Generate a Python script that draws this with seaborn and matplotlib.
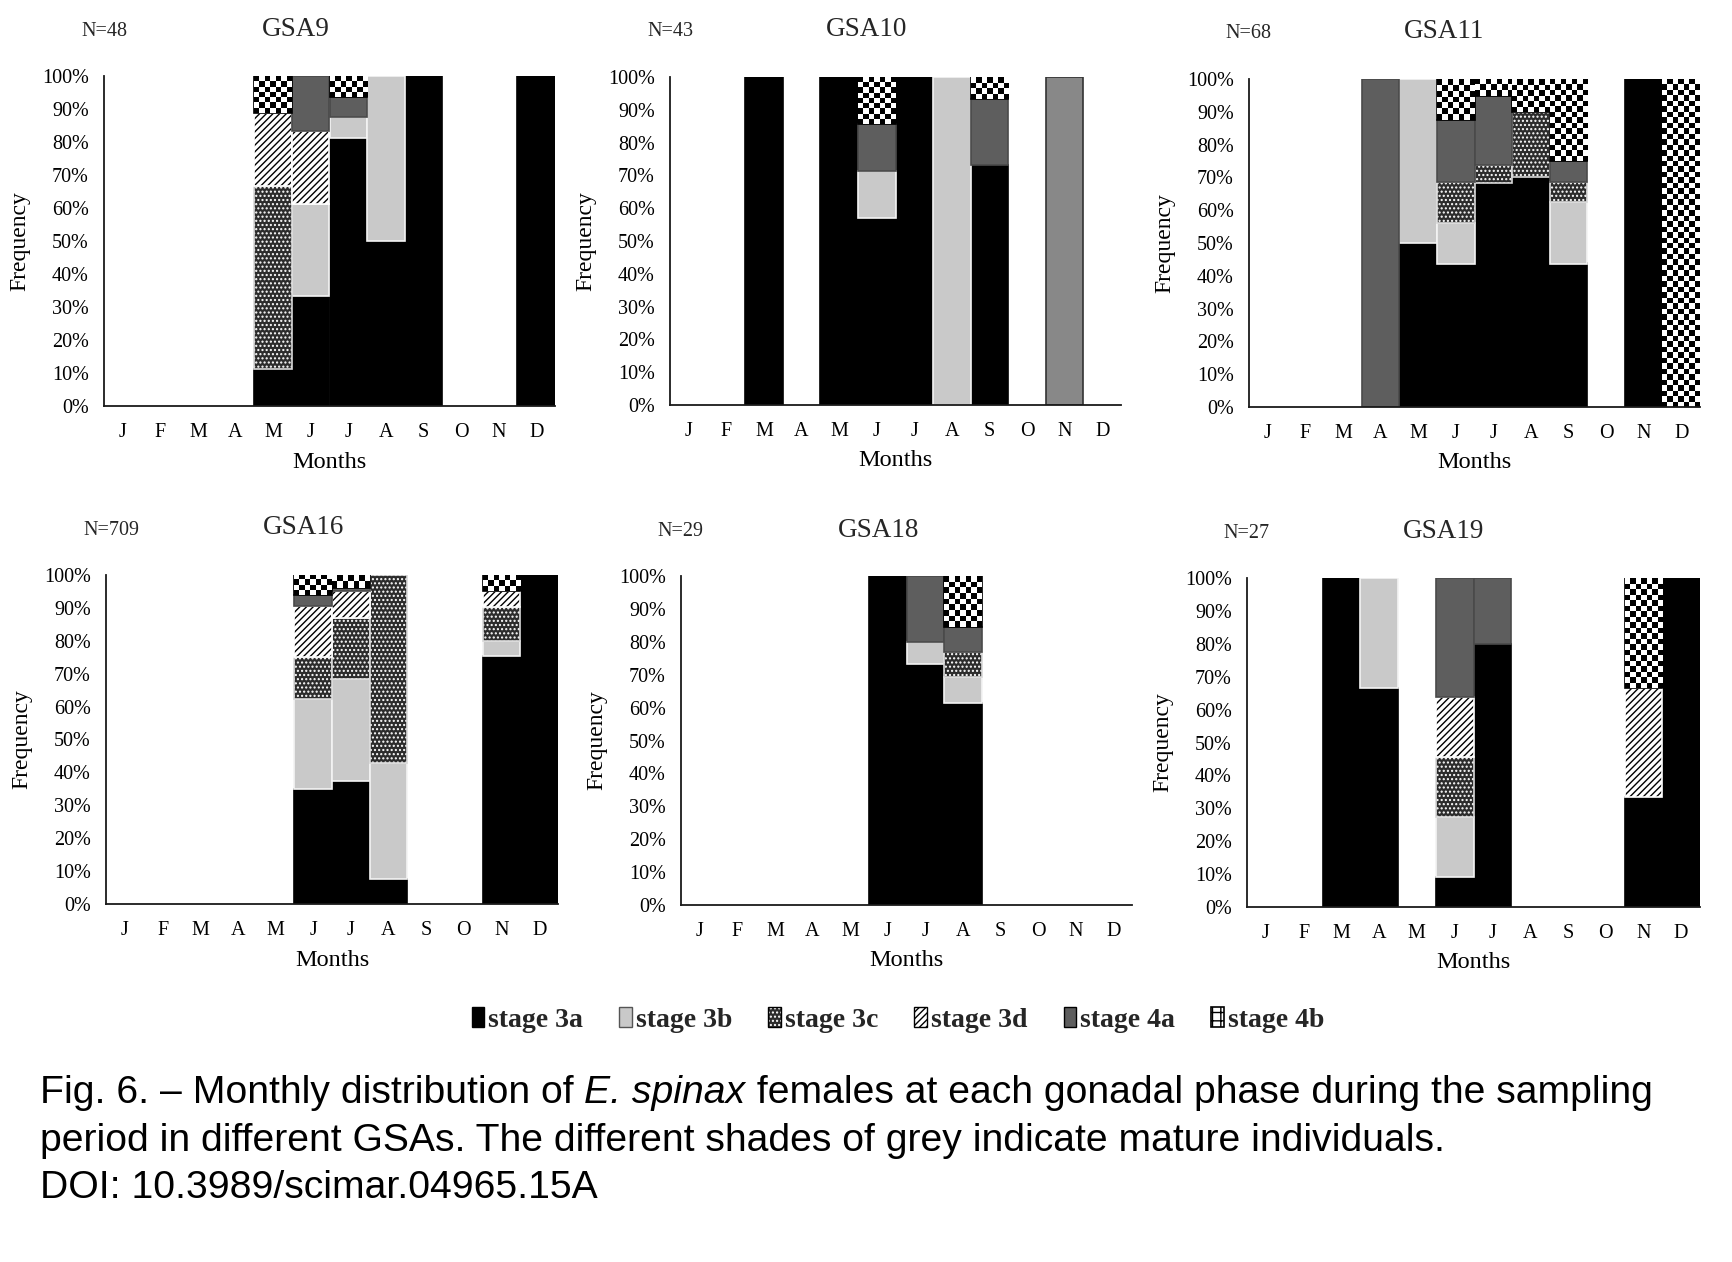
import numpy as np
import pandas as pd
import matplotlib
matplotlib.use("Agg")
import matplotlib.pyplot as plt
import matplotlib.patches as mpatches
from matplotlib.colors import to_rgba
from matplotlib.ticker import FuncFormatter
from matplotlib.offsetbox import TextArea, HPacker, AnnotationBbox
import seaborn as sns

# ---------------- data (percent of females per month) ----------------
months = ["J", "F", "M", "A", "M", "J", "J", "A", "S", "O", "N", "D"]
stages = ["stage 3a", "stage 3b", "stage 3c", "stage 3d", "stage 4a", "stage 4b"]

gsa9 = {
    "stage 3a": [0, 0, 0, 0, 11.1, 33.3, 81.25, 50, 100, 0, 0, 100],
    "stage 3b": [0, 0, 0, 0, 0, 27.8, 6.25, 50, 0, 0, 0, 0],
    "stage 3c": [0, 0, 0, 0, 55.6, 0, 0, 0, 0, 0, 0, 0],
    "stage 3d": [0, 0, 0, 0, 22.2, 22.2, 0, 0, 0, 0, 0, 0],
    "stage 4a": [0, 0, 0, 0, 0, 16.7, 6.25, 0, 0, 0, 0, 0],
    "stage 4b": [0, 0, 0, 0, 11.1, 0, 6.25, 0, 0, 0, 0, 0],
}
gsa10 = {
    "stage 3a": [0, 0, 100, 0, 100, 57.1, 100, 0, 73.3, 0, 0, 0],
    "stage 3b": [0, 0, 0, 0, 0, 14.3, 0, 100, 0, 0, 0, 0],
    "stage 3c": [0] * 12,
    "stage 3d": [0] * 12,
    "stage 4a": [0, 0, 0, 0, 0, 14.3, 0, 0, 20, 0, 100, 0],
    "stage 4b": [0, 0, 0, 0, 0, 14.3, 0, 0, 6.7, 0, 0, 0],
}
gsa11 = {
    "stage 3a": [0, 0, 0, 0, 50, 43.75, 68.4, 70, 43.75, 0, 100, 0],
    "stage 3b": [0, 0, 0, 0, 50, 12.5, 0, 0, 18.75, 0, 0, 0],
    "stage 3c": [0, 0, 0, 0, 0, 12.5, 5.3, 20, 6.25, 0, 0, 0],
    "stage 3d": [0] * 12,
    "stage 4a": [0, 0, 0, 100, 0, 18.75, 21.1, 0, 6.25, 0, 0, 0],
    "stage 4b": [0, 0, 0, 0, 0, 12.5, 5.2, 10, 25, 0, 0, 100],
}
gsa16 = {
    "stage 3a": [0, 0, 0, 0, 0, 34.9, 37.5, 7.5, 0, 0, 75.5, 100],
    "stage 3b": [0, 0, 0, 0, 0, 27.3, 30.9, 35.5, 0, 0, 4.5, 0],
    "stage 3c": [0, 0, 0, 0, 0, 13.0, 18.4, 57.0, 0, 0, 10.2, 0],
    "stage 3d": [0, 0, 0, 0, 0, 15.4, 8.4, 0, 0, 0, 5.0, 0],
    "stage 4a": [0, 0, 0, 0, 0, 3.3, 0.8, 0, 0, 0, 0, 0],
    "stage 4b": [0, 0, 0, 0, 0, 6.1, 4.0, 0, 0, 0, 4.8, 0],
}
gsa18 = {
    "stage 3a": [0, 0, 0, 0, 0, 100, 73.3, 61.5, 0, 0, 0, 0],
    "stage 3b": [0, 0, 0, 0, 0, 0, 6.7, 7.7, 0, 0, 0, 0],
    "stage 3c": [0, 0, 0, 0, 0, 0, 0, 7.7, 0, 0, 0, 0],
    "stage 3d": [0] * 12,
    "stage 4a": [0, 0, 0, 0, 0, 0, 20, 7.7, 0, 0, 0, 0],
    "stage 4b": [0, 0, 0, 0, 0, 0, 0, 15.4, 0, 0, 0, 0],
}
gsa19 = {
    "stage 3a": [0, 0, 100, 66.7, 0, 9.1, 80, 0, 0, 0, 33.3, 100],
    "stage 3b": [0, 0, 0, 33.3, 0, 18.2, 0, 0, 0, 0, 0, 0],
    "stage 3c": [0, 0, 0, 0, 0, 18.2, 0, 0, 0, 0, 0, 0],
    "stage 3d": [0, 0, 0, 0, 0, 18.2, 0, 0, 0, 0, 33.3, 0],
    "stage 4a": [0, 0, 0, 0, 0, 36.3, 20, 0, 0, 0, 0, 0],
    "stage 4b": [0, 0, 0, 0, 0, 0, 0, 0, 0, 0, 33.4, 0],
}
panel_titles = ["GSA9", "GSA10", "GSA11", "GSA16", "GSA18", "GSA19"]
panel_n = ["N=48", "N=43", "N=68", "N=709", "N=29", "N=27"]
panel_data = [gsa9, gsa10, gsa11, gsa16, gsa18, gsa19]
# single bar drawn in a different grey in the original figure
color_overrides = {("GSA10", 10, "stage 4a"): "#888888"}

# ---------------- styling ----------------
sns.set_theme(style="white")
plt.rcParams["font.family"] = ["Liberation Serif", "DejaVu Serif"]
plt.rcParams["hatch.linewidth"] = 1.0

W, H = 1732, 1262
fig = plt.figure(figsize=(W / 100, H / 100), dpi=100)
fig.patch.set_facecolor("white")

styles = {
    "stage 3a": dict(face="#000000", edge="#000000", hatch=None, hcol=None),
    "stage 3b": dict(face="#c9c9c9", edge="#f4f4f4", hatch=None, hcol=None),
    "stage 3c": dict(face="#2c2c2c", edge="#d8d8d8", hatch="....", hcol="#ffffff"),
    "stage 3d": dict(face="#ffffff", edge="#ffffff", hatch="/////", hcol="#000000"),
    "stage 4a": dict(face="#5e5e5e", edge="#4a4a4a", hatch=None, hcol=None),
    "stage 4b": dict(face="#ffffff", edge="#000000", hatch=None, hcol=None),
}

# axes rectangles in pixels: left, right, top, bottom
rects = [
    (104, 555, 76, 406), (670, 1121, 77, 405), (1249, 1700, 79, 407),
    (106, 558, 575, 904), (681, 1132, 576, 905), (1247, 1700, 578, 907),
]
title_pos = [(296, 30), (867, 30), (1444, 32), (304, 528), (879, 530), (1444, 532)]
n_pos = [(104, 31), (670, 31), (1248, 33), (111, 530), (680, 531), (1246, 533)]


def checker(ax, patch, cell_px=5.5):
    x, y = patch.get_x(), patch.get_y()
    w, h = patch.get_width(), patch.get_height()
    if h <= 0:
        return
    p0 = ax.transData.transform((x, y))
    p1 = ax.transData.transform((x + w, y + h))
    nx = max(1, int(round(abs(p1[0] - p0[0]) / cell_px)))
    ny = max(1, int(round(abs(p1[1] - p0[1]) / cell_px)))
    arr = np.add.outer(np.arange(ny), np.arange(nx)) % 2
    im = ax.imshow(arr, cmap="gray", vmin=0, vmax=1, extent=(x, x + w, y, y + h),
                   aspect="auto", interpolation="nearest", origin="lower",
                   zorder=patch.get_zorder() + 0.5)
    im.set_clip_path(patch)


for i, (data, title, ntxt) in enumerate(zip(panel_data, panel_titles, panel_n)):
    l, r, t, b = rects[i]
    ax = fig.add_axes([l / W, 1 - b / H, (r - l) / W, (b - t) / H])
    ax.set_facecolor("white")
    # long table with bottoms for stacking
    rows = []
    for mi, m in enumerate(months):
        bottom = 0.0
        for s in stages:
            v = data[s][mi]
            if v > 0:
                rows.append(dict(pos=mi, month=f"{mi}", stage=s, value=v, bottom=bottom))
            bottom += v
    df = pd.DataFrame(rows)
    order = [f"{mi}" for mi in range(12)]
    for s in stages:
        sub = df[df["stage"] == s].sort_values("pos")
        if sub.empty:
            continue
        st = styles[s]
        n_before = len(ax.patches)
        sns.barplot(data=sub, x="month", y="value", order=order, ax=ax,
                    bottom=sub["bottom"].to_numpy(), width=1.0, color=st["face"],
                    saturation=1, errorbar=None, edgecolor=st["edge"], linewidth=1.2,
                    hatch=st["hatch"])
        new = ax.patches[n_before:]
        for p, (_, row) in zip(new, sub.iterrows()):
            if st["hcol"] is not None:
                p._hatch_color = to_rgba(st["hcol"])
            key = (title, int(row["pos"]), s)
            if key in color_overrides:
                p.set_facecolor(color_overrides[key])
                p.set_edgecolor("#333333")
        ax.set_xlim(-0.5, 11.5)
        ax.set_ylim(0, 100)
        if s == "stage 4b":
            for p in new:
                checker(ax, p)
    ax.set_xlim(-0.5, 11.5)
    ax.set_ylim(0, 100)
    ax.set_xticks(range(12))
    ax.set_xticklabels(months)
    ax.set_yticks(np.arange(0, 101, 10))
    ax.yaxis.set_major_formatter(FuncFormatter(lambda v, _: f"{int(round(v))}%"))
    ax.tick_params(axis="both", length=0, labelsize=14.5, colors="black")
    ax.tick_params(axis="x", pad=12)
    ax.tick_params(axis="y", pad=11)
    for sp in ["top", "right"]:
        ax.spines[sp].set_visible(False)
    for sp in ["left", "bottom"]:
        ax.spines[sp].set_color("#1a1a1a")
        ax.spines[sp].set_linewidth(1.3)
    ax.set_xlabel("Months", fontsize=17.5, color="black", va="center")
    ax.set_ylabel("Frequency", fontsize=17, color="black", va="center")
    ax.xaxis.set_label_coords(0.5, -56 / (b - t))
    ax.yaxis.set_label_coords(-84 / (r - l), 0.5)
    ax.grid(False)
    tx, ty = title_pos[i]
    fig.text(tx / W, 1 - ty / H, title, ha="center", va="center", fontsize=19.5)
    nx_, ny_ = n_pos[i]
    fig.text(nx_ / W, 1 - ny_ / H, ntxt, ha="center", va="center", fontsize=14.5)

# ---------------- legend ----------------
handles = []
for s in stages:
    st = styles[s]
    if s == "stage 4b":
        hp = mpatches.Patch(facecolor="white", edgecolor="black", hatch="++", linewidth=1.2)
    elif s == "stage 3d":
        hp = mpatches.Patch(facecolor="white", edgecolor="black", hatch="/////", linewidth=1.0)
    else:
        hp = mpatches.Patch(facecolor=st["face"], edgecolor="#000000" if s != "stage 3b" else "#555555",
                            hatch=st["hatch"], linewidth=1.0)
        if st["hcol"] is not None:
            hp._hatch_color = to_rgba(st["hcol"])
    handles.append(hp)
fig.legend(handles, stages, loc="center", bbox_to_anchor=(898 / W, 1 - 1020 / H), ncol=6,
           frameon=False, prop=dict(family="Liberation Serif", weight="bold", size=20),
           handlelength=0.45, handleheight=0.75, handletextpad=0.15, columnspacing=1.3)

# ---------------- caption ----------------
cap_font = dict(family="Liberation Sans", size=28.2, color="black")
parts = HPacker(children=[
    TextArea("Fig. 6. \u2013 Monthly distribution of ", textprops=cap_font),
    TextArea("E. spinax", textprops=dict(cap_font, style="italic")),
    TextArea(" females at each gonadal phase during the sampling", textprops=cap_font),
], align="baseline", pad=0, sep=0)
fig.add_artist(AnnotationBbox(parts, (40 / W, 1 - 1093 / H), xycoords="figure fraction",
                              box_alignment=(0, 0.5), frameon=False, pad=0))
fig.text(40 / W, 1 - 1141 / H,
         "period in different GSAs. The different shades of grey indicate mature individuals.",
         ha="left", va="center", **cap_font)
fig.text(40 / W, 1 - 1188 / H, "DOI: 10.3989/scimar.04965.15A", ha="left", va="center", **cap_font)

fig.savefig("out.png", dpi=100, facecolor="white")
